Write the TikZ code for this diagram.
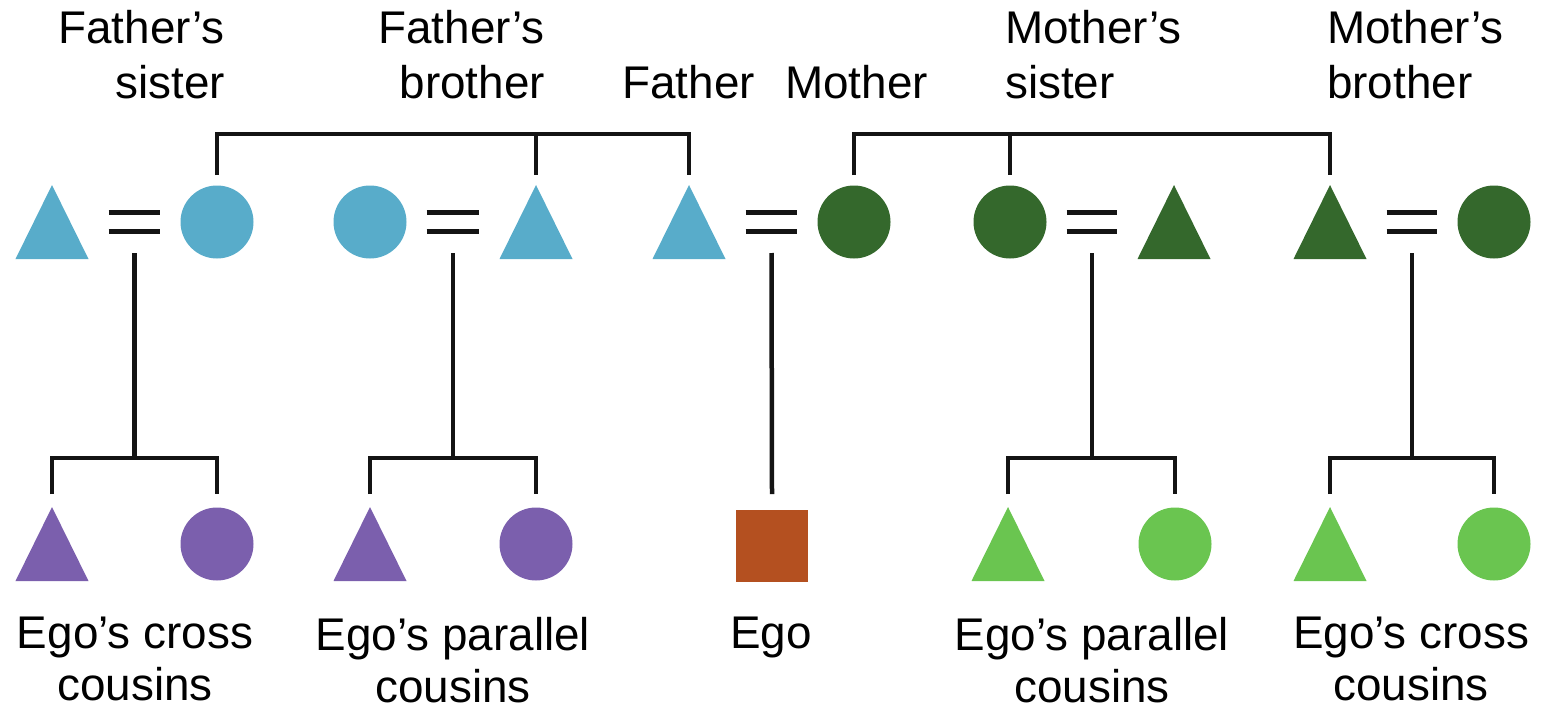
\documentclass[tikz,border=0pt]{standalone}
\usepackage{fontspec}
\setmainfont{Liberation Sans}
\usetikzlibrary{calc}
\definecolor{cblue}{HTML}{58ACCA}
\definecolor{cdgreen}{HTML}{34682C}
\definecolor{cpurple}{HTML}{7B5FAD}
\definecolor{corange}{HTML}{B45020}
\definecolor{clgreen}{HTML}{6AC550}
\begin{document}
\begin{tikzpicture}[x=1bp,y=-1bp,
  tri/.style={minimum width=73bp,minimum height=74bp,inner sep=0pt,
    path picture={\fill[#1] (path picture bounding box.south west) -- (path picture bounding box.south east) -- (path picture bounding box.north) -- cycle;}},
  circ/.style={circle,fill=#1,minimum size=73bp,inner sep=0pt},
  sq/.style={rectangle,fill=#1,minimum size=72bp,inner sep=0pt},
  link/.style={line width=4.5bp,black!92},
  lbl/.style={inner sep=0pt,font=\fontsize{46}{55}\selectfont},
  blbl/.style={inner sep=0pt,font=\fontsize{46}{52}\selectfont}]
\useasboundingbox (0,0) rectangle (1546,706);
% level coordinates
\coordinate (tbar) at (0,134);
\coordinate (tend) at (0,175);
\coordinate (mstart) at (0,253);
\coordinate (bbar) at (0,458);
\coordinate (bend) at (0,494);
% top row
\node[tri=cblue] (a1) at (52,222) {};
\node[circ=cblue] (a2) at (217,222) {};
\node[circ=cblue] (a3) at (370,222) {};
\node[tri=cblue] (a4) at (536,222) {};
\node[tri=cblue] (a5) at (689,222) {};
\node[circ=cdgreen] (a6) at (854,222) {};
\node[circ=cdgreen] (a7) at (1010,222) {};
\node[tri=cdgreen] (a8) at (1174,222) {};
\node[tri=cdgreen] (a9) at (1330,222) {};
\node[circ=cdgreen] (a10) at (1494,222) {};
% bottom row
\node[tri=cpurple] (b1) at (52,544) {};
\node[circ=cpurple] (b2) at (217,544) {};
\node[tri=cpurple] (b3) at (370,544) {};
\node[circ=cpurple] (b4) at (536,544) {};
\node[sq=corange] (ego) at (772,546) {};
\node[tri=clgreen] (b5) at (1008,544) {};
\node[circ=clgreen] (b6) at (1175,544) {};
\node[tri=clgreen] (b7) at (1330,544) {};
\node[circ=clgreen] (b8) at (1494,544) {};
% marriages
\foreach \l/\r/\m in {a1/a2/m1,a3/a4/m2,a5/a6/m3,a7/a8/m4,a9/a10/m5}{
  \draw[link] ($(\l.east)+(20,-9.5)$) -- ($(\r.west)+(-20,-9.5)$);
  \draw[link] ($(\l.east)+(20,9.5)$) -- ($(\r.west)+(-20,9.5)$);
  \coordinate (\m) at ($(\l.east)!0.5!(\r.west)$);
}
% sibling bars, top
\draw[link] (a2 |- tend) -- (a2 |- tbar) -- (a5 |- tbar) -- (a5 |- tend);
\draw[link] (a4 |- tbar) -- (a4 |- tend);
\draw[link] (a6 |- tend) -- (a6 |- tbar) -- (a9 |- tbar) -- (a9 |- tend);
\draw[link] (a7 |- tbar) -- (a7 |- tend);
% descent lines
\draw[link] (m1 |- mstart) -- (m1 |- bbar);
\draw[link] (b1 |- bend) -- (b1 |- bbar) -- (b2 |- bbar) -- (b2 |- bend);
\draw[link] (m2 |- mstart) -- (m2 |- bbar);
\draw[link] (b3 |- bend) -- (b3 |- bbar) -- (b4 |- bbar) -- (b4 |- bend);
\draw[link] (m3 |- mstart) -- (ego |- bend);
\draw[link] (m4 |- mstart) -- (m4 |- bbar);
\draw[link] (b5 |- bend) -- (b5 |- bbar) -- (b6 |- bbar) -- (b6 |- bend);
\draw[link] (m5 |- mstart) -- (m5 |- bbar);
\draw[link] (b7 |- bend) -- (b7 |- bbar) -- (b8 |- bbar) -- (b8 |- bend);
% top labels
\node[lbl,anchor=north east,align=right] (tfs) at (225,10) {Father’s\\sister};
\node[lbl,anchor=north east,align=right] (tfb) at (545,10) {Father’s\\brother};
\node[lbl,anchor=north east] (tf) at (755,65) {Father};
\node[lbl,anchor=north west] (tm) at (785,65) {Mother};
\node[lbl,anchor=north west,align=left] (tms) at (1005,10) {Mother’s\\sister};
\node[lbl,anchor=north west,align=left] (tmb) at (1327,10) {Mother’s\\brother};
% bottom labels
\node[blbl,anchor=north,align=center] (l1) at (135,617) {Ego’s cross\\cousins};
\node[blbl,anchor=north,align=center] (l2) at (453,617) {Ego’s parallel\\cousins};
\node[blbl,anchor=north] (l3) at (771,617) {Ego};
\node[blbl,anchor=north,align=center] (l4) at (1092,617) {Ego’s parallel\\cousins};
\node[blbl,anchor=north,align=center] (l5) at (1411,617) {Ego’s cross\\cousins};
\end{tikzpicture}
\end{document}
